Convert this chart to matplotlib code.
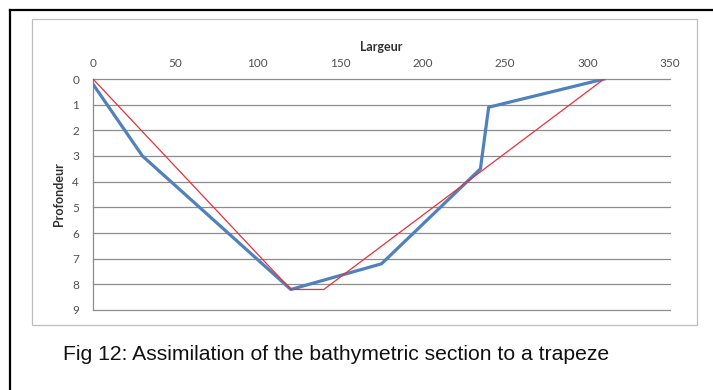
import matplotlib
matplotlib.use('Agg')
import matplotlib.pyplot as plt
from matplotlib.lines import Line2D
from matplotlib.patches import Rectangle

# profil bathymetrique mesure (bleu) et trapeze equivalent (rouge)
largeur_mesure = [0, 30, 120, 175, 235, 240, 310]
profondeur_mesure = [0.2, 3, 8.2, 7.2, 3.5, 1.1, 0]
largeur_trapeze = [0, 120, 140, 310]
profondeur_trapeze = [0, 8.2, 8.2, 0]

x_ticks = [0, 50, 100, 150, 200, 250, 300, 350]
y_ticks = [0, 1, 2, 3, 4, 5, 6, 7, 8, 9]
caption = "Fig 12: Assimilation of the bathymetric section to a trapeze"

plt.rcParams['font.family'] = ['Lato', 'DejaVu Sans']
fig = plt.figure(figsize=(7.13, 3.90), dpi=100)
ax = fig.add_axes([93 / 713, 1 - 310 / 390, (670 - 93) / 713, (310 - 79) / 390])

ax.plot(largeur_mesure, profondeur_mesure, c='#4F81BD', lw=2.3, zorder=3)
ax.plot(largeur_trapeze, profondeur_trapeze, c='#E8303A', lw=0.9, zorder=4)

ax.set_xlim(0, 350)
ax.set_ylim(9, 0)
ax.set_xticks(x_ticks)
ax.set_yticks(y_ticks)
ax.xaxis.tick_top()
ax.xaxis.set_label_position('top')
ax.tick_params(length=0, labelsize=8.5, colors='#505050', pad=10)
ax.tick_params(axis='x', pad=7)
ax.grid(True, axis='y', color='#8C8C8C', lw=0.9)
for gl in ax.get_ygridlines():
    gl.set_clip_on(False)
for s in ['top', 'right', 'bottom']:
    ax.spines[s].set_visible(False)
ax.spines['left'].set_color('#8C8C8C')
ax.spines['left'].set_linewidth(0.9)

ax.set_xlabel("Largeur", fontsize=9, fontweight='bold', color='#303030', labelpad=5)
ax.set_ylabel("Profondeur", fontsize=9, fontweight='bold', color='#303030', labelpad=5)

# cadre du graphique et bordure de la figure
fig.add_artist(Rectangle((32 / 713, 1 - 325 / 390), (697 - 32) / 713, (325 - 19) / 390,
                         transform=fig.transFigure, fill=False, ec='#BFBFBF', lw=0.9))
fig.add_artist(Line2D([10 / 713, 1], [1 - 10 / 390, 1 - 10 / 390], transform=fig.transFigure,
                      color='black', lw=1.6))
fig.add_artist(Line2D([10 / 713, 10 / 713], [1 - 10 / 390, 0], transform=fig.transFigure,
                      color='black', lw=1.6))

fig.text(63 / 713, 1 - 355 / 390, caption, fontsize=15.2, family='Liberation Sans',
         va='center', ha='left', color='#111111')

fig.savefig('out.png', dpi=100)
